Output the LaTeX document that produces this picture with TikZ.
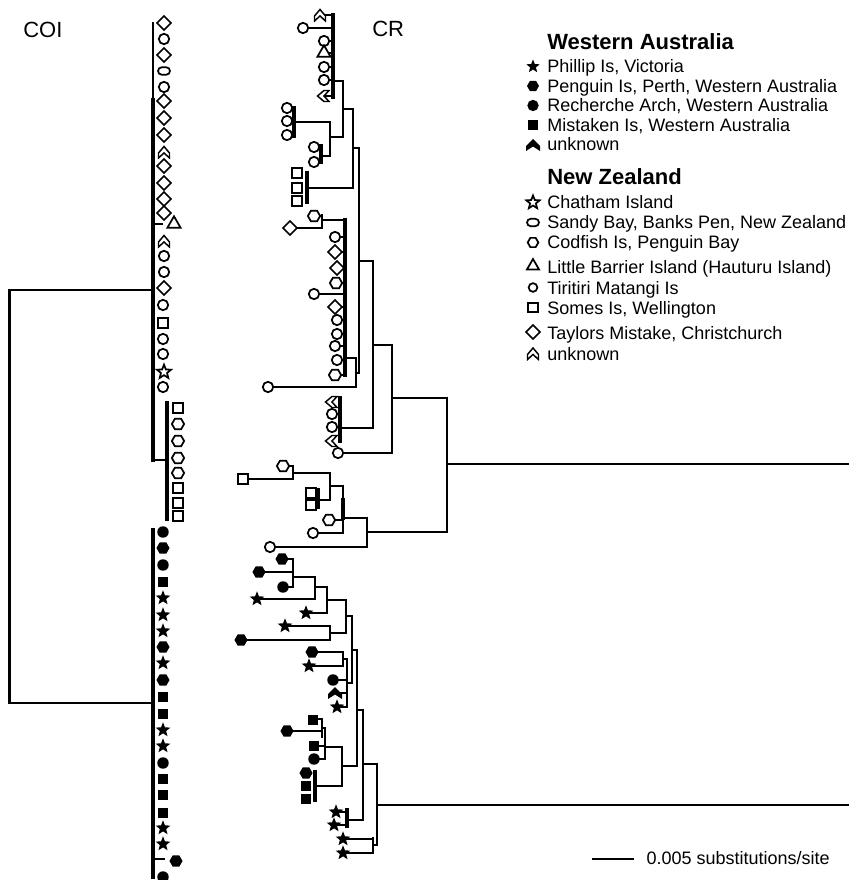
\documentclass[tikz,border=0pt]{standalone}
\usepackage{fontspec}
\setmainfont{Liberation Sans}
\usetikzlibrary{shapes.geometric,shapes.misc}
\newcounter{tipc}
\newcommand\tp[2]{\stepcounter{tipc}\node[#1] (tip\arabic{tipc}) at (#2) {};}
\begin{document}
\begin{tikzpicture}[x=0.75pt,y=-0.75pt,
 brl/.style={line width=1.8pt, line cap=rect, line join=miter},
 thinbrl/.style={line width=1.1pt, line cap=rect},
 thickbrl/.style={line width=2.4pt, line cap=rect},
 mkbase/.style={inner sep=0pt, outer sep=0pt, line width=1.3pt},
 ocirc/.style={mkbase, circle, draw, fill=white, minimum size=7.8pt},
 fcirc/.style={mkbase, circle, fill=black, minimum size=8.6pt},
 osq/.style={mkbase, rectangle, draw, fill=white, minimum size=7.6pt},
 fsq/.style={mkbase, rectangle, fill=black, minimum size=8.2pt},
 odia/.style={mkbase, diamond, draw, fill=white, minimum size=10.5pt},
 otri/.style={mkbase, regular polygon, regular polygon sides=3, draw, fill=white, minimum size=11.5pt},
 ohex/.style={mkbase, regular polygon, regular polygon sides=6, draw, fill=white, minimum size=9.2pt},
 fhex/.style={mkbase, regular polygon, regular polygon sides=6, fill=black, minimum size=9.8pt},
 ostar/.style={mkbase, star, star points=5, star point ratio=2.3, draw, fill=white, minimum size=11pt},
 fstar/.style={mkbase, star, star points=5, star point ratio=2.3, fill=black, minimum size=11.5pt},
 ovalmk/.style={mkbase, rounded rectangle, draw, fill=white, minimum width=9pt, minimum height=5.5pt},
 labtxt/.style={inner sep=0pt, anchor=base west, font=\fontsize{13.5}{16}\selectfont},
 headtxt/.style={inner sep=0pt, anchor=base west, font=\fontsize{16.5}{19}\selectfont\bfseries},
 ttltxt/.style={inner sep=0pt, anchor=base west, font=\fontsize{16.5}{19}\selectfont},
 pics/nzunk/.style={code={\draw[line width=1.1pt, line join=miter, fill=white] (-5.5,6) -- (-5.5,1) -- (0,-5.5) -- (5.5,1) -- (5.5,6) -- (0,1) -- cycle;}},
 pics/waunk/.style={code={\fill (-7,6) -- (-7,1) -- (0,-6) -- (7,1) -- (7,6) -- (0,1.5) -- cycle;}},
]
\useasboundingbox (0,0) rectangle (848,880);
\fill[white] (0,0) rectangle (848,880);

% ---------------- titles
\node[ttltxt] (coi) at (23,38) {COI};
\node[ttltxt] (cr) at (372,37) {CR};

% ---------------- COI tree
\draw[brl] (153,290) -- (9.5,290) -- (9.5,703) -- (153,703);
\draw[thinbrl] (153,23) -- (153,100);
\draw[thickbrl] (153,100) -- (153,460);
\draw[brl] (153,224) -- (162,224);
\draw[brl] (153,460) -- (167,460);
\draw[thickbrl] (167,403) -- (167,519);
\draw[thickbrl] (153,530) -- (153,877);
\draw[brl] (153,859) -- (164,859);

\tp{odia}{164,23}\tp{ocirc}{164,39}\tp{odia}{164,55}\tp{ovalmk}{164,71}
\tp{ocirc}{164,87}\tp{odia}{164,101}\tp{odia}{164,118}\tp{odia}{164,135}
\pic at (164,152) {nzunk};
\tp{odia}{164,166}\tp{odia}{164,183}\tp{odia}{164,199}\tp{odia}{164,213}
\tp{otri}{174,224}
\pic at (164,241) {nzunk};
\tp{ocirc}{164,256}\tp{ocirc}{164,272}\tp{odia}{164,288}\tp{ocirc}{163,305}
\tp{osq}{163,323}\tp{ocirc}{163,339}\tp{ocirc}{163,354}\tp{ostar}{164,372}
\tp{ocirc}{163,387}

\tp{osq}{178,408}\tp{ohex}{178,424}\tp{ohex}{178,441}\tp{ohex}{178,458}
\tp{ohex}{178,473}\tp{osq}{178,488}\tp{osq}{178,503}\tp{osq}{178,516}

\tp{fcirc}{163,532}\tp{fhex}{163,548}\tp{fcirc}{163,565}\tp{fsq}{163,582}
\tp{fstar}{163,598}\tp{fstar}{163,615}\tp{fstar}{163,631}\tp{fhex}{163,647}
\tp{fstar}{163,663}\tp{fhex}{163,680}\tp{fsq}{163,697}\tp{fsq}{163,714}
\tp{fstar}{163,730}\tp{fstar}{163,746}\tp{fcirc}{163,763}\tp{fsq}{163,779}
\tp{fsq}{163,795}\tp{fsq}{163,813}\tp{fstar}{163,828}\tp{fstar}{163,844}
\tp{fhex}{176,861}\tp{fcirc}{163,877}

% ---------------- CR tree : New Zealand part
\draw[brl] (320,15) -- (333,15);
\draw[thickbrl] (333,15) -- (333,97);
\draw[brl] (303,28) -- (333,28);
\foreach \yy in {41,53,67,80,96} \draw[brl] (324,\yy) -- (333,\yy);
\draw[brl] (333,81) -- (343,81) -- (343,137) -- (330,137);
\draw[brl] (294,122) -- (330,122);
\draw[brl] (330,122) -- (330,156) -- (321,156);
\draw[thickbrl] (294,108) -- (294,136);
\draw[thickbrl] (321,146) -- (321,162);
\draw[brl] (343,109) -- (353,109) -- (353,188) -- (307,188);
\draw[thickbrl] (307,173) -- (307,202);
\draw[brl] (353,148) -- (359,148) -- (359,373) -- (356,373);
\draw[brl] (345,358) -- (356,358) -- (356,387) -- (268,387);
\draw[thickbrl] (345,220) -- (345,375);
\draw[brl] (322,220) -- (345,220);
\draw[brl] (322,215) -- (322,228);
\draw[brl] (314,216) -- (322,216);
\draw[brl] (290,228) -- (322,228);
\draw[brl] (314,294) -- (345,294);
\foreach \yy in {237,252,268,283,307,320,334,346,360,375} \draw[brl] (336,\yy) -- (345,\yy);
\draw[brl] (359,261) -- (373,261) -- (373,428) -- (340,428);
\draw[thickbrl] (340,398) -- (340,441);
\draw[brl] (373,345) -- (392,345) -- (392,453) -- (338,453);
\draw[brl] (392,398) -- (447,398) -- (447,532) -- (367,532);
\draw[brl] (447,464) -- (848,464);
\draw[brl] (343,518) -- (367,518) -- (367,547) -- (270,547);
\draw[brl] (330,486) -- (343,486) -- (343,533) -- (313,533);
\draw[thickbrl] (343,500) -- (343,518);
\draw[brl] (329,520) -- (343,520);
\draw[brl] (293,473) -- (330,473) -- (330,500) -- (318,500);
\draw[thickbrl] (318,490) -- (318,507);
\draw[brl] (283,466) -- (293,466) -- (293,479) -- (243,479);

\pic at (320,15) {nzunk};
\tp{ocirc}{303,28}\tp{ocirc}{324,41}\tp{otri}{324,53}\tp{ocirc}{324,67}\tp{ocirc}{324,80}
\pic[rotate=90] at (323,96) {nzunk};
\tp{ocirc}{287,108}\tp{ocirc}{287,121}\tp{ocirc}{287,135}
\tp{ocirc}{314,147}\tp{ocirc}{314,162}
\tp{osq}{297,173}\tp{osq}{297,188}\tp{osq}{297,201}
\tp{ohex}{314,216}\tp{odia}{290,228}
\tp{ocirc}{335,237}\tp{odia}{335,252}\tp{odia}{337,268}\tp{ohex}{336,283}
\tp{ocirc}{314,294}\tp{odia}{335,307}\tp{ocirc}{337,320}\tp{ocirc}{337,334}
\tp{ocirc}{335,346}\tp{ocirc}{337,360}\tp{ohex}{335,375}
\tp{ocirc}{268,387}
\pic[rotate=90] at (331,402) {nzunk};
\tp{ocirc}{332,414}\tp{ocirc}{332,427}
\pic[rotate=90] at (331,441) {nzunk};
\tp{ocirc}{338,453}
\tp{ohex}{283,466}\tp{osq}{243,479}\tp{osq}{311,493}\tp{osq}{311,505}
\tp{ohex}{329,520}\tp{ocirc}{313,533}\tp{ocirc}{270,547}

% ---------------- CR tree : Western Australia part
\draw[brl] (282,559) -- (293,559) -- (293,587) -- (283,587);
\draw[brl] (259,572) -- (293,572);
\draw[brl] (293,577) -- (315,577) -- (315,599) -- (257,599);
\draw[brl] (315,587) -- (327,587) -- (327,613) -- (306,613);
\draw[brl] (327,600) -- (346,600) -- (346,633) -- (330,633);
\draw[brl] (285,626) -- (330,626) -- (330,640) -- (241,640);
\draw[brl] (346,616) -- (352,616) -- (352,683) -- (347,683);
\draw[brl] (312,652) -- (343,652) -- (343,666) -- (309,666);
\draw[brl] (343,659) -- (347,659) -- (347,707) -- (337,707);
\draw[brl] (333,680) -- (347,680);
\draw[brl] (335,693) -- (347,693);
\draw[brl] (352,650) -- (357,650) -- (357,766) -- (342,766);
\draw[brl] (357,710) -- (363,710) -- (363,820) -- (347,820);
\draw[thickbrl] (347,810) -- (347,826);
\draw[brl] (336,812) -- (347,812);
\draw[brl] (334,825) -- (347,825);
\draw[brl] (325,747) -- (342,747) -- (342,786) -- (315,786);
\draw[brl] (313,719) -- (322,719) -- (322,737);
\draw[brl] (287,731) -- (322,731);
\draw[brl] (322,728) -- (325,728) -- (325,759) -- (314,759);
\draw[brl] (314,746) -- (325,746);
\draw[thickbrl] (315,772) -- (315,800);
\draw[brl] (363,764) -- (377,764) -- (377,845) -- (373,845);
\draw[brl] (373,838) -- (373,853);
\draw[brl] (343,839) -- (373,839);
\draw[brl] (343,853) -- (373,853);
\draw[brl] (377,805) -- (848,805);

\tp{fhex}{282,559}\tp{fhex}{259,572}\tp{fcirc}{283,587}\tp{fstar}{257,599}
\tp{fstar}{306,613}\tp{fstar}{285,626}\tp{fhex}{241,640}
\tp{fhex}{312,652}\tp{fstar}{309,666}\tp{fcirc}{333,680}
\pic at (335,693) {waunk};
\tp{fstar}{337,707}
\tp{fsq}{313,720}\tp{fhex}{287,731}\tp{fsq}{314,746}\tp{fcirc}{314,759}
\tp{fhex}{306,773}\tp{fsq}{306,786}\tp{fsq}{306,799}
\tp{fstar}{336,812}\tp{fstar}{334,825}\tp{fstar}{343,839}\tp{fstar}{343,853}

% ---------------- legend
\node[headtxt] (wa) at (547,50) {Western Australia};
\tp{fstar, minimum size=10.5pt}{533,66.5}
\node[labtxt] (wa1) at (547,73) {Phillip Is, Victoria};
\tp{fhex, minimum size=9pt}{533,86}
\node[labtxt] (wa2) at (547,92.5) {Penguin Is, Perth, Western Australia};
\tp{fcirc, minimum size=8.5pt}{533,105.5}
\node[labtxt] (wa3) at (547,112) {Recherche Arch, Western Australia};
\tp{fsq, minimum size=7.5pt}{533,125}
\node[labtxt] (wa4) at (547,131.5) {Mistaken Is, Western Australia};
\pic at (533,145) {waunk};
\node[labtxt] (wa5) at (547,151) {unknown};

\node[headtxt] (nz) at (547,185) {New Zealand};
\tp{ostar, minimum size=10.5pt}{533,202.5}
\node[labtxt] (nz1) at (547,209) {Chatham Island};
\tp{ovalmk}{533,222.5}
\node[labtxt] (nz2) at (547,229) {Sandy Bay, Banks Pen, New Zealand};
\tp{ohex, minimum size=8pt}{533,242.5}
\node[labtxt] (nz3) at (547,249) {Codfish Is, Penguin Bay};
\tp{otri, minimum size=10.5pt}{533,266}
\node[labtxt] (nz4) at (547,273) {Little Barrier Island (Hauturu Island)};
\tp{ocirc, minimum size=6.5pt}{533,287.5}
\node[labtxt] (nz5) at (547,294) {Tiritiri Matangi Is};
\tp{osq, minimum size=7pt}{533,307.5}
\node[labtxt] (nz6) at (547,314) {Somes Is, Wellington};
\tp{odia, minimum size=10.5pt}{533,332}
\node[labtxt] (nz7) at (547,339) {Taylors Mistake, Christchurch};
\pic at (533,353.5) {nzunk};
\node[labtxt] (nz8) at (547,360) {unknown};

% ---------------- scale bar
\coordinate (sbA) at (592,859);
\coordinate (sbB) at (634,859);
\draw[line width=1.3pt] (sbA) -- (sbB);
\node[labtxt, anchor=base east] (sbt) at (830,864) {0.005 substitutions/site};
\end{tikzpicture}
\end{document}
